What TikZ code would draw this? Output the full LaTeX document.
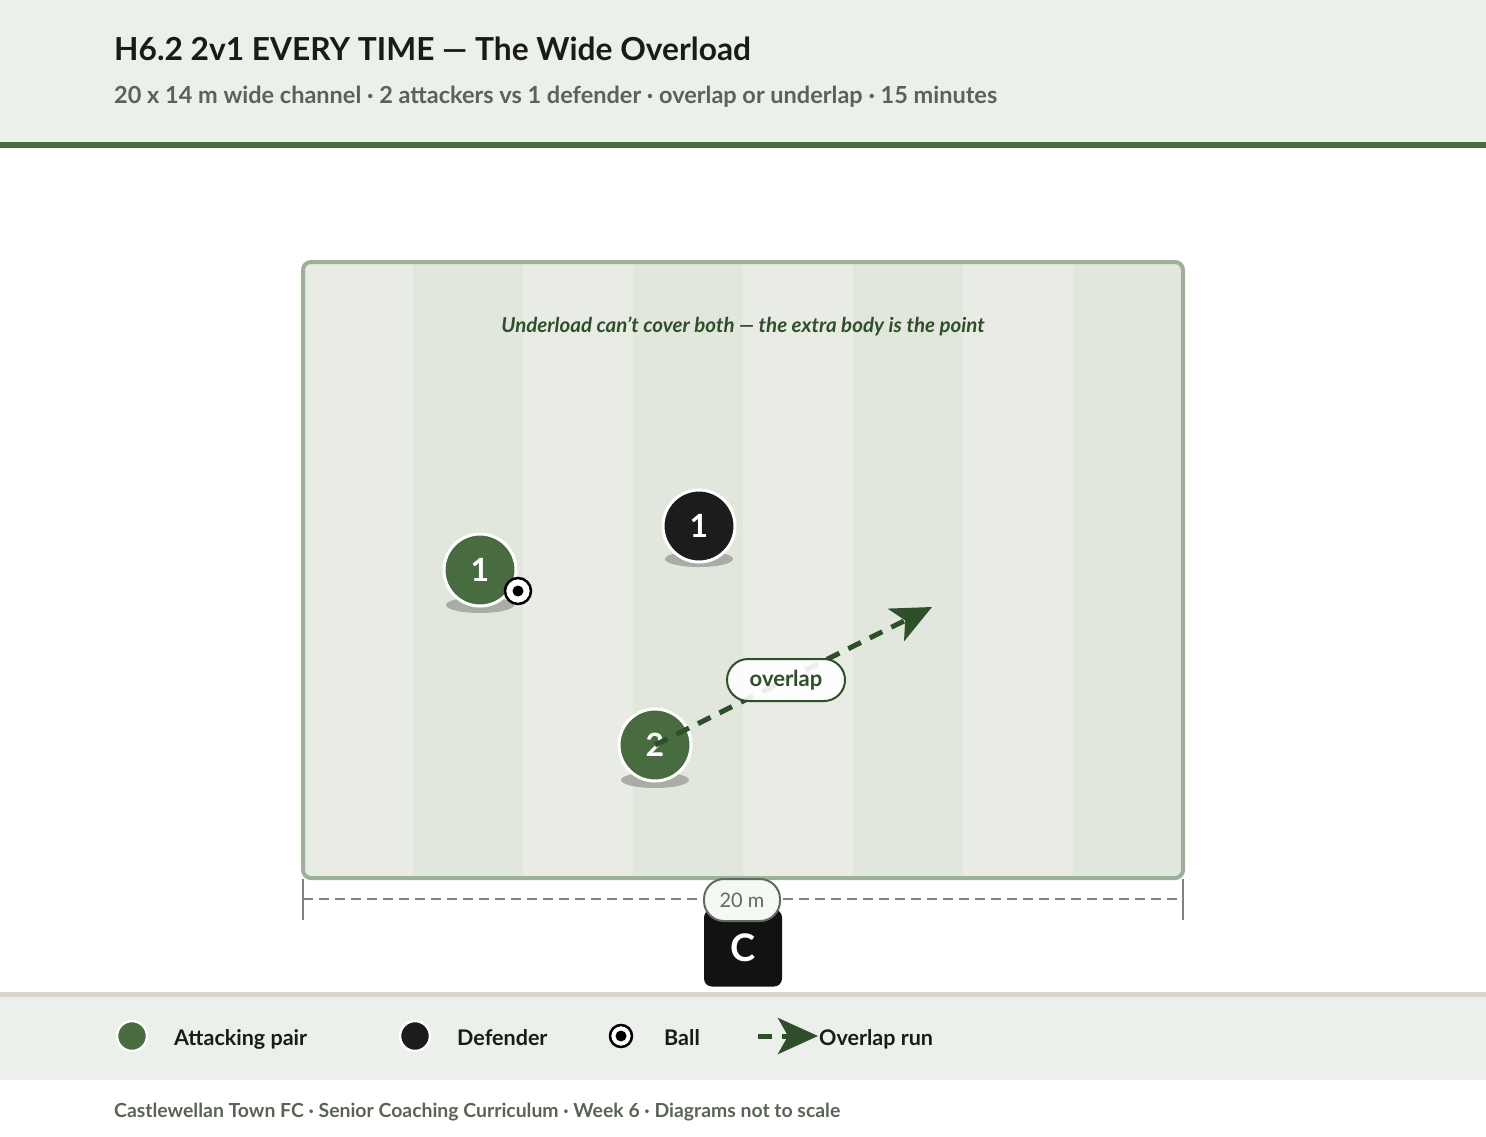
\documentclass[tikz,border=0pt]{standalone}
\usepackage{fontspec}
\setmainfont{Lato}
\usetikzlibrary{arrows.meta}

\definecolor{hdrbg}{HTML}{ECF0EA}
\definecolor{hdrline}{HTML}{4A6B3E}
\definecolor{inkdark}{HTML}{1A1A1A}
\definecolor{subgrey}{HTML}{5A6356}
\definecolor{stripeA}{HTML}{E9ECE5}
\definecolor{stripeB}{HTML}{E1E7DD}
\definecolor{pitchline}{HTML}{9DB098}
\definecolor{attgreen}{HTML}{486C40}
\definecolor{defblack}{HTML}{1C1C1C}
\definecolor{rungreen}{HTML}{2E4F2A}
\definecolor{shadowgrey}{HTML}{A9ADA6}
\definecolor{dimgrey}{HTML}{7C857A}
\definecolor{pillgrey}{HTML}{5F6B5D}
\definecolor{footline}{HTML}{D9D5CD}

\tikzset{
  attacker/.style={circle,fill=attgreen,draw=white,line width=3pt,minimum size=72pt,inner sep=0pt,text=white,font=\bfseries\fontsize{32}{32}\selectfont},
  defender/.style={attacker,fill=defblack},
  ballnode/.style={circle,fill=white,draw=black,line width=2.5pt,minimum size=#1,inner sep=0pt,
    path picture={\fill[black] (path picture bounding box.center) circle (5.5pt);}},
  ballnode/.default=26pt,
  run/.style={draw=rungreen,line width=5pt,dash pattern=on 14pt off 10pt,-{Stealth[length=40pt,width=36pt,inset=10pt]}},
  pill/.style={fill=white,fill opacity=0.9,text opacity=1,draw=rungreen,line width=2pt,rounded corners=21pt,minimum width=118pt,minimum height=42pt,text=rungreen,font=\bfseries\fontsize{22}{22}\selectfont},
  legtext/.style={anchor=base west,inner sep=0pt,text=inkdark,font=\bfseries\fontsize{21.5}{24}\selectfont}
}

\begin{document}
\begin{tikzpicture}[x=1pt,y=-1pt]
\useasboundingbox (0,0) rectangle (1486,1136);
%\draw[step=100,gray,very thin] (0,0) grid (1486,1136);
%.............................
\fill[hdrbg] (0,0) rectangle (1486,143);
\fill[hdrline] (0,142) rectangle (1486,148);
\node[anchor=base west,inner sep=0pt,text=inkdark,font=\bfseries\fontsize{31.7}{36}\selectfont] (title) at (114,60) {H6.2 2v1 EVERY TIME — The Wide Overload};
\node[anchor=base west,inner sep=0pt,text=subgrey,font=\bfseries\fontsize{23.5}{26}\selectfont] (subtitle) at (114,103) {20 x 14 m wide channel · 2 attackers vs 1 defender · overlap or underlap · 15 minutes};
%.............................
\begin{scope}
\clip[rounded corners=8] (303,262) rectangle (1183,878);
\fill[stripeA] (303,262) rectangle (1183,878);
\foreach \sx in {413,633,853,1073}
  \fill[stripeB] (\sx,262) rectangle (\sx+110,878);
\end{scope}
\draw[pitchline,line width=4pt,rounded corners=8] (303,262) rectangle (1183,878);
\node[text=rungreen,font=\bfseries\itshape\fontsize{20.5}{24}\selectfont] (note) at (743,326) {Underload can't cover both — the extra body is the point};
%.............................
\fill[shadowgrey] (480,605) ellipse [x radius=34, y radius=8];
\fill[shadowgrey] (699,559) ellipse [x radius=34, y radius=8];
\fill[shadowgrey] (655,780) ellipse [x radius=34, y radius=8];
\node[attacker] (att1) at (480,570) {1};
\node[defender] (def1) at (699,526) {1};
\node[attacker] (att2) at (655,745) {2};
\node[ballnode] (ball) at (518,591) {};
%.............................
\coordinate (runend) at (932,607);
\draw[run] (att2.center) -- (runend);
\node[pill] (runlabel) at (786,680) {overlap};
%.............................
\coordinate (dimL) at (303,899);
\coordinate (dimR) at (1183,899);
\draw[dimgrey,line width=2.5pt,dash pattern=on 10pt off 6pt] (dimL) -- (dimR);
\draw[dimgrey,line width=2pt] (303,879) -- (303,920);
\draw[dimgrey,line width=2pt] (1183,879) -- (1183,920);
\node[fill=black!93,rounded corners=8pt,minimum width=78pt,minimum height=77pt,text=white,font=\bfseries\fontsize{38}{38}\selectfont] (coach) at (743,948) {C};
\node[fill=hdrbg!50!white,draw=pillgrey,line width=2pt,rounded corners=20pt,minimum width=76pt,minimum height=42pt,text=pillgrey,font=\fontsize{20}{20}\selectfont] (dimlabel) at (742,900) {20 m};
%.............................
\fill[footline] (0,992) rectangle (1486,997);
\fill[hdrbg] (0,997) rectangle (1486,1080);
\node[attacker,minimum size=30pt,line width=2.5pt] (legatt) at (132,1036) {};
\node[legtext] (legatttext) at (174,1045) {Attacking pair};
\node[defender,minimum size=30pt,line width=2.5pt] (legdef) at (415,1036) {};
\node[legtext] (legdeftext) at (457,1045) {Defender};
\node[ballnode=22pt] (legball) at (621,1036) {};
\node[legtext] (legballtext) at (664,1045) {Ball};
\coordinate (legrunA) at (758,1036);
\coordinate (legrunB) at (818,1036);
\draw[run] (legrunA) -- (legrunB);
\node[legtext] (legruntext) at (819,1045) {Overlap run};
%.............................
\node[anchor=base west,inner sep=0pt,text=subgrey,font=\bfseries\fontsize{19.4}{22}\selectfont] (footer) at (114,1117) {Castlewellan Town FC · Senior Coaching Curriculum · Week 6 · Diagrams not to scale};
\end{tikzpicture}
\end{document}
